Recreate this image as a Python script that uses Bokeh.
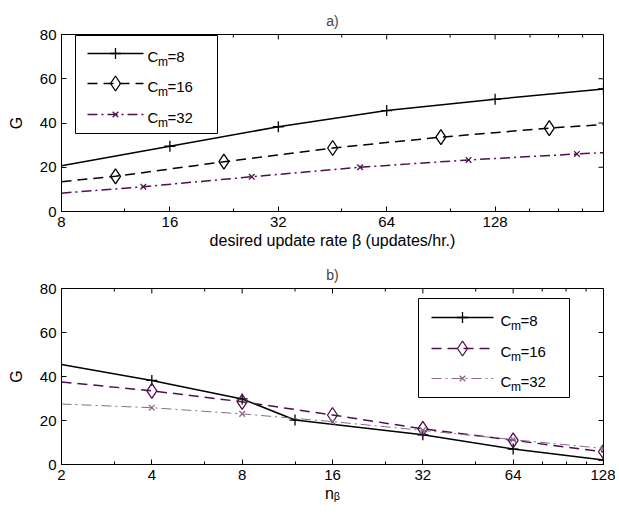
import math
from bokeh.plotting import figure
from bokeh.layouts import column
from bokeh.models import FixedTicker, PrintfTickFormatter, Range1d
from bokeh.core.properties import value
from bokeh.embed import file_html
from bokeh.resources import INLINE

FONT = "Liberation Sans"
PURPLE = "#4e104e"
LIGHT_PURPLE = "#8a6a8a"

# ---------------- data: panel a) ----------------
beta_cm8 = [8, 16, 32, 64, 128, 256]
G_a_cm8 = [20.7, 29.5, 38.3, 45.6, 50.7, 55.4]
beta_cm16 = [8, 11.3, 22.6, 45.3, 90.5, 181, 256]
G_a_cm16 = [13.5, 15.9, 22.5, 28.7, 33.6, 37.7, 39.3]
beta_cm32 = [8, 13.5, 27, 54, 108, 216, 256]
G_a_cm32 = [8.3, 11.2, 15.7, 20.0, 23.3, 26.0, 26.6]

# ---------------- data: panel b) ----------------
n_cm8 = [2, 4, 8, 12, 32, 64, 128]
G_b_cm8 = [45.5, 38.2, 29.8, 20.2, 13.5, 7.0, 2.0]
n_cm16 = [2, 4, 8, 16, 32, 64, 128]
G_b_cm16 = [37.5, 33.5, 28.5, 22.5, 16.2, 11.0, 5.8]
n_cm32 = [2, 4, 8, 16, 32, 64, 128]
G_b_cm32 = [27.5, 25.8, 23.0, 19.5, 15.5, 11.3, 7.3]

legend_numbers = ["8", "16", "32"]

ticks_a = [8, 16, 32, 64, 128]
minor_a = [12, 24, 48, 96, 160, 192, 224]
ticks_b = [2, 4, 8, 16, 32, 64, 128]
minor_b = [3, 6, 12, 24, 48, 80, 96, 112]
y_ticks = [0, 20, 40, 60, 80]

FRAME_W = 542
Y_MAX = 80
MAJOR_LEN = 5
MINOR_LEN = 3


def style_axis(ax):
    ax.axis_line_color = "black"
    ax.axis_line_width = 1
    ax.major_tick_in = MAJOR_LEN
    ax.major_tick_out = 0
    ax.minor_tick_in = MINOR_LEN
    ax.minor_tick_out = 0
    ax.major_tick_line_color = "black"
    ax.minor_tick_line_color = "black"
    ax.major_label_text_font = FONT
    ax.major_label_text_color = "black"
    ax.major_label_text_font_size = "15px"
    ax.major_label_standoff = 5
    ax.axis_label_text_font = FONT
    ax.axis_label_text_font_style = "normal"
    ax.axis_label_text_color = "black"


class Frame:
    def __init__(self, xr, frame_h):
        self.x0, self.x1 = xr
        self.n_oct = math.log2(self.x1 / self.x0)
        self.h = frame_h

    def fx(self, px):  # pixel offset from frame left -> data x
        return self.x0 * 2 ** (px * self.n_oct / FRAME_W)

    def fy(self, py):  # pixel offset from frame top -> data y
        return (self.h - py) * Y_MAX / self.h


def make_fig(title, xr, ticks, minor, frame_h, b_top, b_bottom, xlabel):
    p = figure(frame_width=FRAME_W, frame_height=frame_h, x_axis_type="log",
               x_range=Range1d(*xr), y_range=Range1d(0, Y_MAX),
               output_backend="svg", toolbar_location=None,
               min_border_left=61, min_border_right=12,
               min_border_top=b_top, min_border_bottom=b_bottom)
    p.grid.visible = False
    p.outline_line_color = "black"
    p.outline_line_width = 1
    p.background_fill_color = "white"
    p.border_fill_color = "white"
    p.title.text = title
    p.title.align = "center"
    p.title.text_font = FONT
    p.title.text_font_size = "14px"
    p.title.text_font_style = "normal"
    p.title.standoff = 11

    p.xaxis.ticker = FixedTicker(ticks=ticks, minor_ticks=minor)
    p.xaxis.formatter = PrintfTickFormatter(format="%d")
    p.yaxis.ticker = FixedTicker(ticks=y_ticks, minor_ticks=[])
    style_axis(p.xaxis[0])
    style_axis(p.yaxis[0])
    p.xaxis.axis_label = xlabel
    p.xaxis.axis_label_text_font_size = "16px"
    p.xaxis.axis_label_standoff = 2
    p.yaxis.axis_label = "G"
    p.yaxis.axis_label_text_font_size = "16px"
    p.yaxis.axis_label_standoff = 12

    # mirrored (box) ticks on the top and right edges
    fr = Frame(xr, frame_h)
    for tk, ln in ((ticks, MAJOR_LEN), (minor, MINOR_LEN)):
        p.segment(x0=tk, x1=tk, y0=[Y_MAX] * len(tk), y1=[fr.fy(ln)] * len(tk),
                  line_color="black", line_width=1)
    p.segment(x0=[xr[1]] * len(y_ticks), x1=[fr.fx(FRAME_W - MAJOR_LEN)] * len(y_ticks),
              y0=y_ticks, y1=y_ticks, line_color="black", line_width=1)
    return p, fr


def add_series(p, x, y, style, mark_idx):
    color, dash, marker, msize, width = style
    p.line(x, y, line_color=color, line_width=width, line_dash=dash)
    mx = [x[i] for i in mark_idx]
    my = [y[i] for i in mark_idx]
    p.scatter(mx, my, marker=marker, size=msize, line_color=color,
              fill_color=None, line_width=1.3)


def add_legend(p, fr, box, rows, line_span, text_x, styles):
    l, r, t, b = box
    p.quad(left=[fr.fx(l)], right=[fr.fx(r)], top=[fr.fy(t)], bottom=[fr.fy(b)],
           fill_color="white", line_color="black", line_width=1)
    for ly, num, (color, dash, marker, msize, width) in zip(rows, legend_numbers, styles):
        p.line([fr.fx(line_span[0]), fr.fx(line_span[1])], [fr.fy(ly), fr.fy(ly)],
               line_color=color, line_width=width, line_dash=dash)
        p.scatter([fr.fx((line_span[0] + line_span[1]) / 2)], [fr.fy(ly)], marker=marker,
                  size=msize, line_color=color, fill_color=None, line_width=1.3)
        p.text([fr.fx(text_x)], [fr.fy(ly + 2.5)], text=["C"], text_font=value(FONT),
               text_font_size="15px", text_baseline="alphabetic", text_color="black")
        p.text([fr.fx(text_x + 10.5)], [fr.fy(ly + 8.5)], text=["m"], text_font=value(FONT),
               text_font_size="12px", text_baseline="alphabetic", text_color="black")
        p.text([fr.fx(text_x + 20)], [fr.fy(ly + 2.5)], text=["=" + num], text_font=value(FONT),
               text_font_size="15px", text_baseline="alphabetic", text_color="black")


# ---------------- panel a ----------------
pa, fa = make_fig("a)", (8, 256), ticks_a, minor_a, 177, 34, 47,
                  "desired update rate β (updates/hr.)")
style_a = [("black", "solid", "cross", 11, 1.5),
           ("black", "10 6", "diamond", 15, 1.5),
           (PURPLE, "10 4 2 4", "x", 8, 1.5)]
add_series(pa, beta_cm8, G_a_cm8, style_a[0], [1, 2, 3, 4, 5])
add_series(pa, beta_cm16, G_a_cm16, style_a[1], [1, 2, 3, 4, 5])
add_series(pa, beta_cm32, G_a_cm32, style_a[2], [1, 2, 3, 4, 5])
add_legend(pa, fa, (14, 156, 1, 99), [19, 49, 80], (26, 82), 86, style_a)

# ---------------- panel b ----------------
pb, fb = make_fig("b)", (2, 128), ticks_b, minor_b, 176, 30, 47, "nᵦ")
style_b = [("black", "solid", "cross", 11, 1.5),
           (PURPLE, "10 6", "diamond", 15, 1.5),
           (LIGHT_PURPLE, "10 4 2 4", "x", 8, 1.0)]
add_series(pb, n_cm8, G_b_cm8, style_b[0], [1, 2, 3, 4, 5, 6])
add_series(pb, n_cm16, G_b_cm16, style_b[1], [1, 2, 3, 4, 5, 6])
add_series(pb, n_cm32, G_b_cm32, style_b[2], [1, 2, 3, 4, 5, 6])
add_legend(pb, fb, (357, 508, 10, 109), [29, 60, 90], (370, 432), 439, style_b)

layout = column(pa, pb, spacing=0)
open("out.html", "w").write(file_html(layout, INLINE))
